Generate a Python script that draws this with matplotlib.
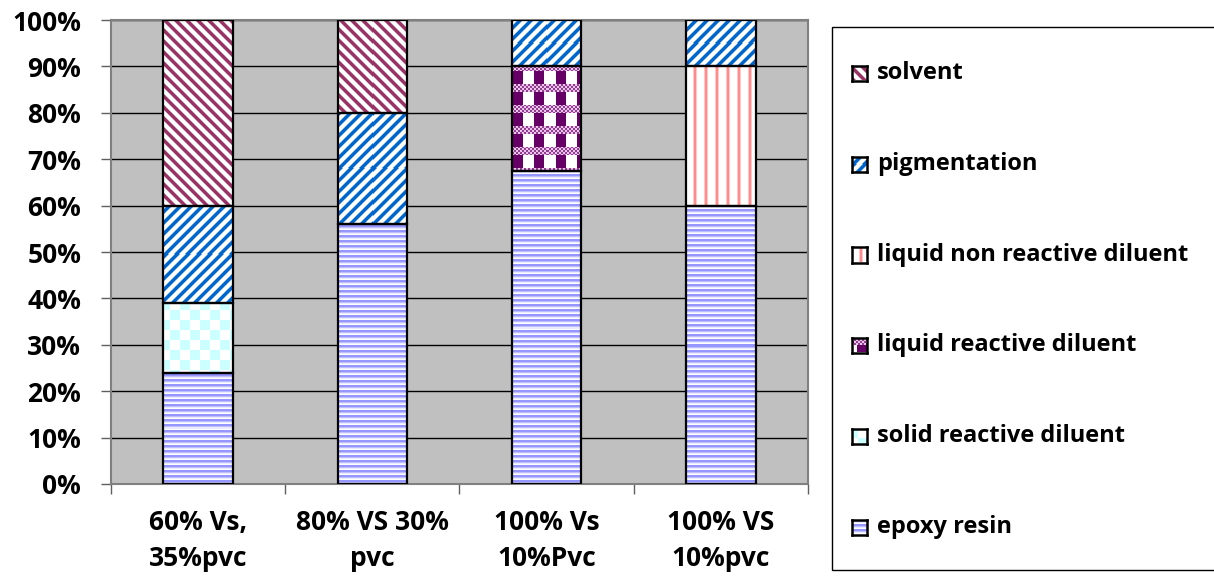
import numpy as np
import matplotlib
matplotlib.use("Agg")
import matplotlib.pyplot as plt
from matplotlib.patches import Rectangle
from matplotlib.ticker import FuncFormatter

plt.rcParams['font.family'] = ['Open Sans', 'DejaVu Sans']
plt.rcParams['font.weight'] = 'bold'

# composition of each formulation, % of total
categories = ['60% Vs,\n35%pvc', '80% VS 30%\npvc', '100% Vs\n10%Pvc', '100% VS\n10%pvc']
epoxy_resin = [24, 56, 67.5, 60]
solid_reactive = [15, 0, 0, 0]
liquid_reactive = [0, 0, 22.5, 0]
liquid_non_reactive = [0, 0, 0, 30]
pigmentation = [21, 24, 10, 10]
solvent = [40, 20, 0, 0]

W, H = 1214, 582


# ---- fill patterns (r = pixel row from top, c = pixel column) ----
def rgb(shape, color):
    out = np.empty(shape + (3,), dtype=float)
    out[:] = np.array(color) / 255.0
    return out


def pat_horizontal(r, c):
    img = rgb(r.shape, (255, 255, 255))
    m = r % 5
    img[(m == 0) | (m == 1)] = np.array((150, 150, 255)) / 255
    img[m == 2] = np.array((190, 190, 255)) / 255
    img[m == 3] = np.array((235, 235, 255)) / 255
    return img


def make_diag(color, sign):
    def f(r, c):
        img = rgb(r.shape, (255, 255, 255))
        m = (c + sign * r) % 11
        col = np.array(color) / 255
        img[m < 4] = col
        img[(m == 4) | (m == 10)] = (col + 1) / 2
        return img
    return f


def pat_checker(r, c):
    img = rgb(r.shape, (255, 255, 255))
    img[((r // 10) + (c // 10)) % 2 == 0] = np.array((204, 255, 255)) / 255
    return img


def pat_plaid(r, c):
    img = rgb(r.shape, (255, 255, 255))
    mc = c % 21
    mr = r % 21
    img[(mc >= 9) & (mc <= 18)] = np.array((102, 0, 102)) / 255
    band = mr <= 7
    dots = ((r // 2) + (c // 2)) % 2 == 0
    img[band & dots] = np.array((150, 60, 150)) / 255
    img[band & ~dots] = np.array((230, 200, 230)) / 255
    return img


def pat_vertical(r, c):
    img = rgb(r.shape, (255, 255, 255))
    m = c % 11
    img[(m == 1) | (m == 2)] = np.array((255, 140, 140)) / 255
    img[(m == 0) | (m == 3)] = np.array((255, 200, 200)) / 255
    return img


series = [
    ('epoxy resin', epoxy_resin, pat_horizontal),
    ('solid reactive diluent', solid_reactive, pat_checker),
    ('liquid reactive diluent', liquid_reactive, pat_plaid),
    ('liquid non reactive diluent', liquid_non_reactive, pat_vertical),
    ('pigmentation', pigmentation, make_diag((0, 102, 204), 1)),
    ('solvent', solvent, make_diag((153, 51, 102), -1)),
]

fig = plt.figure(figsize=(W / 100, H / 100), dpi=100)
ax = fig.add_axes([111 / W, 1 - 484 / H, (808 - 111) / W, (484 - 20) / H])
ax.set_facecolor('#C0C0C0')

x = np.arange(len(categories))
ax.set_xlim(-0.5, len(categories) - 0.5)
ax.set_ylim(0, 100)

bottom = np.zeros(len(categories))
bars = []
for name, vals, pat in series:
    vals = np.array(vals, dtype=float)
    mask = vals > 0
    b = ax.bar(x[mask], vals[mask], width=0.4, bottom=bottom[mask],
               facecolor='none', edgecolor='black', linewidth=1.6, zorder=3)
    bars.append((b, pat))
    bottom += vals

# paint each bar segment with its pattern, pixel-aligned
for b, pat in bars:
    for rect in b.patches:
        x0, y0 = rect.get_x(), rect.get_y()
        x1, y1 = x0 + rect.get_width(), y0 + rect.get_height()
        (px0, py0), (px1, py1) = ax.transData.transform([(x0, y0), (x1, y1)])
        cols = np.arange(int(round(px0)), int(round(px1)))
        rows = np.arange(int(round(H - py1)), int(round(H - py0)))
        R, C = np.meshgrid(rows, cols, indexing='ij')
        ax.imshow(pat(R, C), extent=[x0, x1, y0, y1], origin='upper',
                  interpolation='nearest', aspect='auto', zorder=2)

ax.set_xlim(-0.5, len(categories) - 0.5)
ax.set_ylim(0, 100)

ax.set_yticks(np.arange(0, 101, 10))
ax.yaxis.set_major_formatter(FuncFormatter(lambda v, p: f'{v:.0f}%'))
ax.grid(axis='y', color='black', linewidth=1.0)
ax.set_axisbelow(True)

ax.set_xticks(x)
ax.set_xticklabels(categories, linespacing=1.42)
ax.set_xticks(np.arange(-0.5, len(categories)), minor=True)
ax.tick_params(axis='x', which='major', length=0, pad=18, labelsize=19)
ax.tick_params(axis='x', which='minor', length=7.5, width=1, color='#606060')
ax.tick_params(axis='y', length=7.5, width=1, color='#606060', pad=14, labelsize=19)

for s in ax.spines.values():
    s.set_color('#808080')
    s.set_linewidth(1.5)

# legend box drawn by hand so the swatches can carry the patterns
fig.add_artist(Rectangle((832 / W, 1 - 570 / H), (W - 832 + 10) / W, (570 - 27) / H,
                         transform=fig.transFigure, fill=False,
                         edgecolor='black', linewidth=1.0))
legend_y = [527, 436, 345, 255, 164, 73]
for (name, vals, pat), yc in zip(series, legend_y):
    sw = fig.add_axes([852 / W, 1 - (yc + 7.5) / H, 15 / W, 15 / H])
    R, C = np.meshgrid(np.arange(15), np.arange(15) + 4, indexing='ij')
    sw.imshow(pat(R, C), interpolation='nearest', aspect='auto')
    sw.set_xticks([])
    sw.set_yticks([])
    for s in sw.spines.values():
        s.set_color('black')
        s.set_linewidth(1.8)
    fig.text(877 / W, 1 - yc / H, name, ha='left', va='center',
             fontsize=17, fontweight='bold')

fig.savefig('out.png', dpi=100)
